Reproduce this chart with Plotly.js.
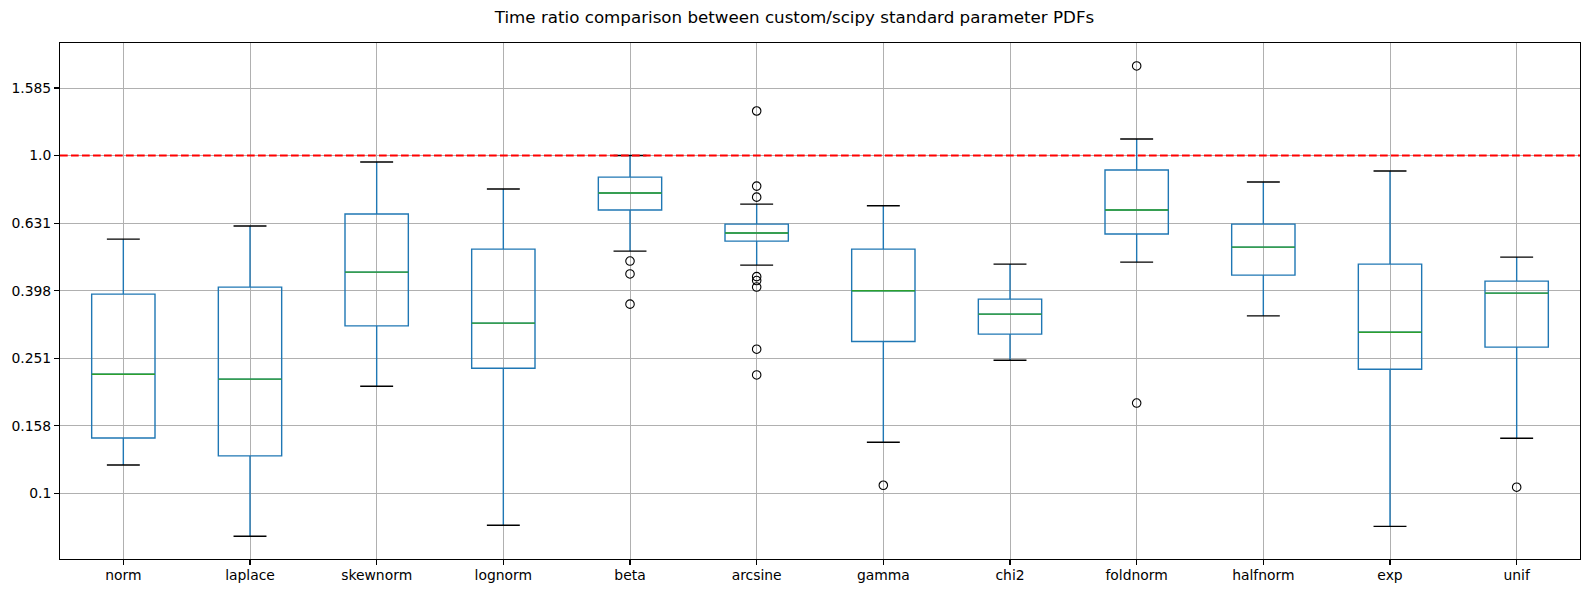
<!DOCTYPE html>
<html>
<head>
<meta charset="utf-8">
<script src="https://cdn.plot.ly/plotly-3.0.1.min.js"></script>
<style>html,body{margin:0;padding:0;background:#fff;}#chart{width:1589px;height:593px;}</style>
</head>
<body>
<div id="chart"></div>
<script>
const categories = ['norm','laplace','skewnorm','lognorm','beta','arcsine','gamma','chi2','foldnorm','halfnorm','exp','unif'];
const lowerWhisker = [0.1213, 0.0746, 0.2075, 0.0804, 0.5212, 0.4738, 0.1416, 0.2477, 0.4835, 0.3352, 0.0798, 0.1455];
const q1Values     = [0.1458, 0.1290, 0.3131, 0.2346, 0.6896, 0.5580, 0.2813, 0.2959, 0.5855, 0.4425, 0.2330, 0.2708];
const medianValues = [0.2252, 0.2177, 0.4517, 0.3189, 0.7743, 0.5895, 0.3976, 0.3392, 0.6896, 0.5356, 0.2999, 0.3914];
const q3Values     = [0.3887, 0.4077, 0.6710, 0.5284, 0.8635, 0.6266, 0.5284, 0.3757, 0.9058, 0.6266, 0.4770, 0.4248];
const upperWhisker = [0.5656, 0.6183, 0.9566, 0.7957, 1.0000, 0.7182, 0.7100, 0.4770, 1.1190, 0.8346, 0.8996, 0.5004];

const outlierCategory = ['beta','beta','beta','arcsine','arcsine','arcsine','arcsine','arcsine','arcsine','arcsine','arcsine','gamma','foldnorm','foldnorm','unif'];
const outlierValue    = [0.487, 0.446, 0.363, 1.355, 0.812, 0.753, 0.438, 0.4265, 0.408, 0.267, 0.224, 0.1056, 1.842, 0.185, 0.1042];

const tickValues = [0.1, 0.1585, 0.2512, 0.3981, 0.631, 1.0, 1.585];
const tickLabels = ['0.1', '0.158', '0.251', '0.398', '0.631', '1.0', '1.585'];
const referenceRatio = 1.0;
const titleText = 'Time ratio comparison between custom/scipy standard parameter PDFs';

const transparent = 'rgba(0,0,0,0)';
function flatBox(vals, width, color) {
  return {
    type: 'box', x: categories, q1: vals, median: vals, q3: vals,
    lowerfence: vals, upperfence: vals, width: width, whiskerwidth: 0,
    line: {color: color, width: 1.4}, fillcolor: transparent,
    hoverinfo: 'skip', showlegend: false
  };
}

const traces = [
  {
    type: 'box', x: categories, q1: q1Values, median: medianValues, q3: q3Values,
    lowerfence: lowerWhisker, upperfence: upperWhisker, width: 0.5, whiskerwidth: 0,
    line: {color: '#1f77b4', width: 1.4}, fillcolor: transparent, boxpoints: false,
    showlegend: false
  },
  flatBox(medianValues, 0.5, '#2ca02c'),
  flatBox(lowerWhisker, 0.26, '#000000'),
  flatBox(upperWhisker, 0.26, '#000000'),
  {
    type: 'scatter', mode: 'markers', x: outlierCategory, y: outlierValue,
    marker: {symbol: 'circle-open', size: 8.5, color: '#000000', line: {width: 1.1, color: '#000000'}},
    showlegend: false
  }
];

const tickFont = {family: 'DejaVu Sans', size: 13.9, color: '#000000'};
const layout = {
  width: 1589, height: 593,
  margin: {l: 60, r: 9, t: 43, b: 34, pad: 0},
  paper_bgcolor: '#ffffff', plot_bgcolor: '#ffffff',
  boxmode: 'overlay',
  title: {
    text: titleText, x: 0.5, xref: 'container', xanchor: 'center',
    y: 1 - 17/593, yref: 'container', yanchor: 'middle',
    font: {family: 'DejaVu Sans', size: 16.7, color: '#000000'}
  },
  xaxis: {
    type: 'category', categoryorder: 'array', categoryarray: categories,
    range: [-0.5, 11.5], showgrid: true, gridcolor: '#b0b0b0', gridwidth: 1,
    showline: true, mirror: true, linecolor: '#000000', linewidth: 1.1,
    ticks: 'outside', ticklen: 4.9, tickwidth: 1.1, tickcolor: '#000000',
    ticklabelstandoff: -2,
    tickfont: tickFont, zeroline: false, fixedrange: true
  },
  yaxis: {
    type: 'log', range: [-1.1947, 0.3333],
    tickmode: 'array', tickvals: tickValues, ticktext: tickLabels,
    showgrid: true, gridcolor: '#b0b0b0', gridwidth: 1,
    showline: true, mirror: true, linecolor: '#000000', linewidth: 1.1,
    ticks: 'outside', ticklen: 4.9, tickwidth: 1.1, tickcolor: '#000000',
    ticklabelstandoff: 1.5,
    tickfont: tickFont, zeroline: false, fixedrange: true
  },
  shapes: [{
    type: 'line', xref: 'paper', x0: 0, x1: 1, yref: 'y', y0: referenceRatio, y1: referenceRatio,
    line: {color: '#ff0000', width: 2.1, dash: '7.7px,3.3px'}, layer: 'above'
  }]
};

Plotly.newPlot('chart', traces, layout, {displayModeBar: false, staticPlot: true});
</script>
</body>
</html>
